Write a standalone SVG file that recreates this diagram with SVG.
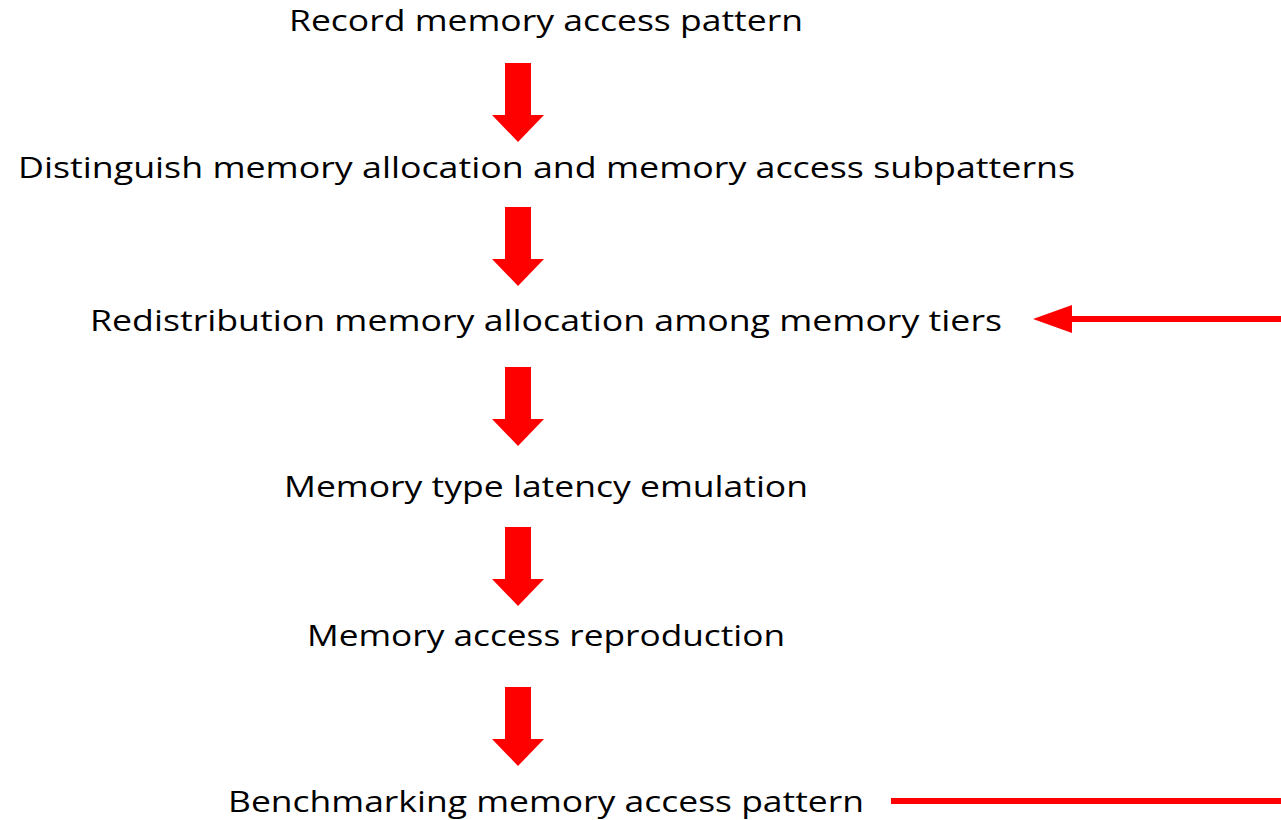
<svg xmlns="http://www.w3.org/2000/svg" width="1281" height="820" viewBox="0 0 1281 820">
  <style>
    .step { font-family: "Open Sans", "Liberation Sans", sans-serif; font-size: 29px; fill: #000; text-anchor: middle; }
    .flow { fill: #ff0000; }
    .feed { stroke: #ff0000; stroke-width: 6; fill: none; }
  </style>
  <defs>
    <!-- block arrow pointing down, origin at shaft top centre -->
    <path id="down" d="M -13 0 H 13 V 52 H 26 L 0 79 L -26 52 H -13 Z"/>
  </defs>
  <rect width="1281" height="820" fill="#fff"/>

  <g id="step1"><text class="step" x="546" y="31" textLength="514" lengthAdjust="spacingAndGlyphs">Record memory access pattern</text></g>
  <g id="step2"><text class="step" x="546.5" y="178" textLength="1057" lengthAdjust="spacingAndGlyphs">Distinguish memory allocation and memory access subpatterns</text></g>
  <g id="step3"><text class="step" x="546" y="331" textLength="912" lengthAdjust="spacingAndGlyphs">Redistribution memory allocation among memory tiers</text></g>
  <g id="step4"><text class="step" x="546" y="497" textLength="524" lengthAdjust="spacingAndGlyphs">Memory type latency emulation</text></g>
  <g id="step5"><text class="step" x="546" y="646" textLength="478" lengthAdjust="spacingAndGlyphs">Memory access reproduction</text></g>
  <g id="step6"><text class="step" x="546" y="812" textLength="636" lengthAdjust="spacingAndGlyphs">Benchmarking memory access pattern</text></g>

  <g id="connectors">
    <use href="#down" class="flow" x="518" y="63"/>
    <use href="#down" class="flow" x="518" y="207"/>
    <use href="#down" class="flow" x="518" y="367"/>
    <use href="#down" class="flow" x="518" y="527"/>
    <use href="#down" class="flow" x="518" y="687"/>
    <!-- feedback from the right edge into the redistribution step -->
    <line class="feed" x1="1281" y1="319" x2="1070" y2="319"/>
    <polygon class="flow" points="1033,319 1072,305 1072,333"/>
    <!-- outgoing line from the benchmarking step -->
    <line class="feed" x1="891" y1="801" x2="1281" y2="801"/>
  </g>
</svg>
